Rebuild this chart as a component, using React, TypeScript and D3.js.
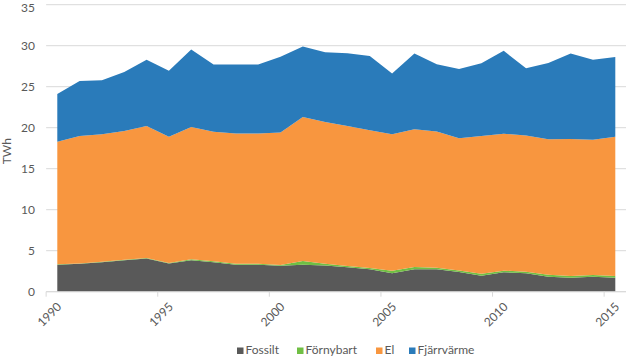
import React from "react";
import * as d3 from "d3";

const years = [1990,1991,1992,1993,1994,1995,1996,1997,1998,1999,2000,2001,2002,2003,2004,2005,2006,2007,2008,2009,2010,2011,2012,2013,2014,2015];
const fossilt = [3.3,3.4,3.6,3.85,4.05,3.45,3.85,3.6,3.3,3.3,3.15,3.3,3.2,2.97,2.73,2.25,2.75,2.73,2.4,1.95,2.37,2.24,1.83,1.71,1.83,1.71];
const fornybart = [0.05,0.05,0.05,0.05,0.05,0.05,0.1,0.1,0.1,0.1,0.1,0.45,0.2,0.15,0.15,0.3,0.25,0.2,0.2,0.25,0.2,0.2,0.25,0.2,0.2,0.2];
const el = [14.95,15.55,15.55,15.7,16.1,15.4,16.15,15.8,15.9,15.9,16.15,17.55,17.3,17.1,16.8,16.65,16.8,16.6,16.1,16.8,16.7,16.6,16.5,16.7,16.5,17.0];
const fjarrvarme = [5.8,6.7,6.6,7.2,8.1,8.05,9.45,8.2,8.4,8.4,9.25,8.6,8.5,8.85,9.05,7.4,9.25,8.2,8.45,8.85,10.1,8.2,9.3,10.45,9.75,9.7];
const seriesNames = ["Fossilt", "Förnybart", "El", "Fjärrvärme"];
const yTicks = [0,5,10,15,20,25,30,35];
const xLabelYears = [1990,1995,2000,2005,2010,2015];
const colors = ["#595959", "#70bf44", "#f8963f", "#2a7bba"];

const W = 626, H = 357;
const FONT = "Lato, 'Open Sans', sans-serif";

export default function App() {
  const x = d3.scaleLinear().domain([1989.5, 2015.5]).range([46.14, 626.46]);
  const y = d3.scaleLinear().domain([0, 35]).range([291.7, 4.7]);
  const table = years.map((yr, i) => ({
    year: yr,
    Fossilt: fossilt[i],
    "Förnybart": fornybart[i],
    El: el[i],
    "Fjärrvärme": fjarrvarme[i],
  }));
  const stack = d3.stack<any>().keys(seriesNames);
  const layers = stack(table);
  const area = d3.area<any>()
    .x((d) => x(d.data.year))
    .y0((d) => y(d[0]))
    .y1((d) => y(d[1]));
  const tickYears = xLabelYears.map((yr) => yr - 0.5);
  const legendX = [237, 297, 376, 409];

  return (
    <svg width={W} height={H} style={{ position: "absolute", left: 0, top: 0, background: "#fff" }} fontFamily={FONT}>
      {yTicks.map((t) => (
        <line key={"g" + t} x1={x(1989.5)} x2={W} y1={y(t)} y2={y(t)} stroke="#d9d9d9" strokeWidth={1} />
      ))}
      {layers.map((layer, i) => (
        <path key={seriesNames[i]} d={area(layer) || ""} fill={colors[i]} />
      ))}
      <line x1={x(1989.5)} x2={W} y1={y(0)} y2={y(0)} stroke="#d9d9d9" strokeWidth={1} />
      {tickYears.map((t) => (
        <line key={"t" + t} x1={x(t)} x2={x(t)} y1={y(0)} y2={y(0) + 5} stroke="#d9d9d9" strokeWidth={1} />
      ))}
      {yTicks.map((t) => (
        <text key={"yl" + t} x={35} y={Math.max(y(t), 8)} dy="0.35em" textAnchor="end" fontSize={12} fill="#595959">{t}</text>
      ))}
      <text transform={`translate(11,${y(17.5) + 3}) rotate(-90)`} textAnchor="middle" fontSize={12} fill="#595959">TWh</text>
      {xLabelYears.map((yr) => (
        <text key={"xl" + yr} transform={`translate(${x(yr) + 2},${y(0) + 13}) rotate(-45)`} textAnchor="end" dy="0.35em" fontSize={12} fill="#595959">{yr}</text>
      ))}
      {seriesNames.map((name, i) => (
        <g key={"lg" + name}>
          <rect x={legendX[i]} y={347.5} width={6.5} height={6.5} fill={colors[i]} />
          <text x={legendX[i] + 8.5} y={354} fontSize={12} fill="#595959">{name}</text>
        </g>
      ))}
    </svg>
  );
}
